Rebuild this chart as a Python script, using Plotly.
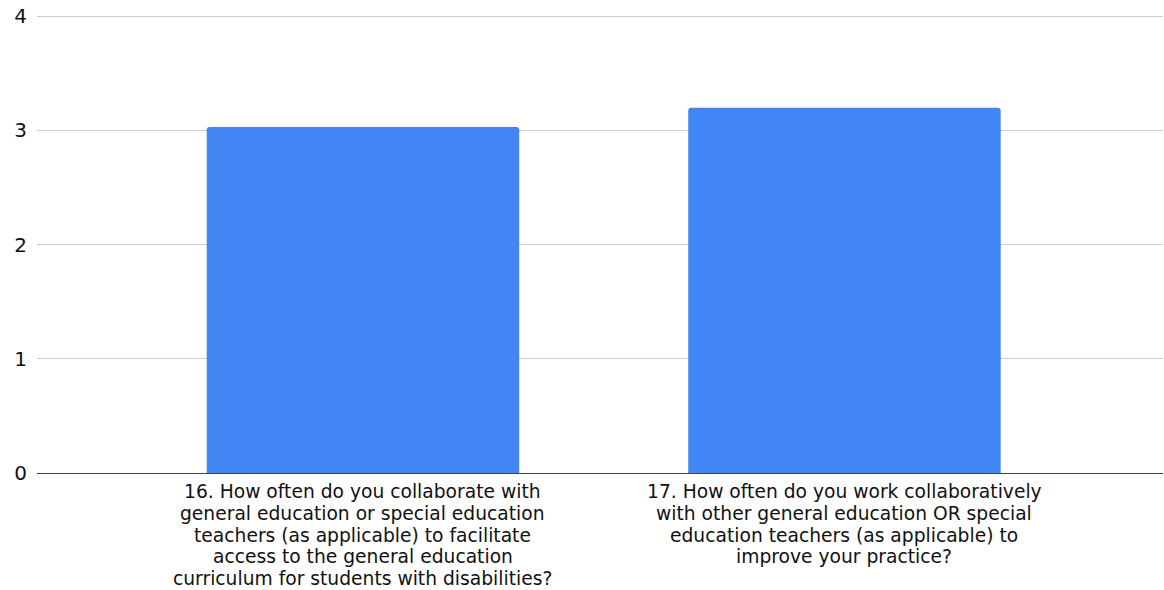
import plotly.graph_objects as go

# Survey questions (each split into its display lines) and their mean scores
question_lines = [
    [
        "16. How often do you collaborate with",
        "general education or special education",
        "teachers (as applicable) to facilitate",
        "access to the general education",
        "curriculum for students with disabilities?",
    ],
    [
        "17. How often do you work collaboratively",
        "with other general education OR special",
        "education teachers (as applicable) to",
        "improve your practice?",
    ],
]
categories = [" ".join(lines) for lines in question_lines]
mean_scores = [3.03, 3.2]
y_ticks = [0, 1, 2, 3, 4]

BAR_COLOR = "#4285F4"
FONT = "DejaVu Sans"
LABEL_SIZE = 18.7
FIRST_LINE = 18.5   # px from the baseline axis to the first label line's centre
LINE_STEP = 21.8    # vertical distance between label lines, px

fig = go.Figure(
    go.Bar(
        x=categories,
        y=mean_scores,
        width=0.649,
        marker=dict(color=BAR_COLOR, line=dict(width=0), cornerradius=3),
        hoverinfo="y",
    )
)

# Multi-line category labels under each bar
annotations = []
for cat, lines in zip(categories, question_lines):
    for i, line in enumerate(lines):
        annotations.append(
            dict(
                x=cat,
                xref="x",
                y=0,
                yref="paper",
                yanchor="middle",
                xanchor="center",
                yshift=-(FIRST_LINE + LINE_STEP * i),
                text=line,
                showarrow=False,
                borderpad=0,
                font=dict(family=FONT, size=LABEL_SIZE, color="#111111"),
            )
        )

fig.update_layout(
    width=1164,
    height=590,
    margin=dict(l=37, r=1, t=14, b=117),
    paper_bgcolor="white",
    plot_bgcolor="white",
    showlegend=False,
    annotations=annotations,
    font=dict(family=FONT, color="#111111"),
)

fig.update_xaxes(
    type="category",
    range=[-0.677, 1.6615],
    showticklabels=False,
    showgrid=False,
    zeroline=False,
    showline=False,
    ticks="",
)

fig.update_yaxes(
    range=[0, 4.02],
    tickmode="array",
    tickvals=y_ticks,
    ticktext=[str(v) for v in y_ticks],
    showgrid=True,
    gridcolor="#cccccc",
    gridwidth=1,
    zeroline=True,
    zerolinecolor="#444444",
    zerolinewidth=1.3,
    showline=False,
    ticks="",
    ticklabelstandoff=9,
    tickfont=dict(family=FONT, size=20, color="#111111"),
)

fig.write_html("out.html")
